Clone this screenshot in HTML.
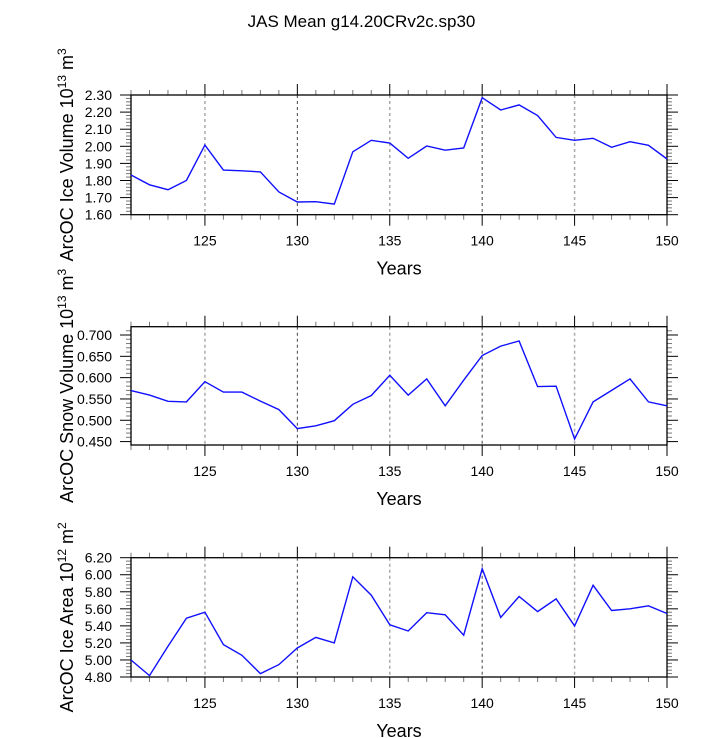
<!DOCTYPE html>
<html><head><meta charset="utf-8"><style>
html,body{margin:0;padding:0;background:#fff;}
svg{display:block;font-family:"Liberation Sans",Arial,sans-serif;}
</style></head><body>
<svg id="chart" width="723" height="738" viewBox="0 0 723 738" xmlns="http://www.w3.org/2000/svg">
<text x="361.5" y="27" font-size="17" text-anchor="middle">JAS Mean g14.20CRv2c.sp30</text>
</svg>
<script>
const years = [121,122,123,124,125,126,127,128,129,130,131,132,133,134,135,136,137,138,139,140,141,142,143,144,145,146,147,148,149,150];
const iceVolume = [1.832,1.775,1.746,1.80,2.007,1.861,1.857,1.850,1.733,1.674,1.676,1.662,1.968,2.035,2.019,1.930,2.002,1.977,1.990,2.284,2.212,2.242,2.180,2.052,2.035,2.047,1.994,2.027,2.006,1.926];
const snowVolume = [0.5695,0.559,0.5445,0.543,0.5906,0.566,0.566,0.545,0.525,0.4805,0.487,0.499,0.5375,0.558,0.6055,0.559,0.597,0.534,0.594,0.652,0.674,0.686,0.579,0.580,0.456,0.543,0.570,0.597,0.543,0.534];
const iceArea = [5.00,4.816,5.16,5.49,5.56,5.18,5.055,4.84,4.945,5.14,5.265,5.20,5.976,5.76,5.413,5.34,5.555,5.53,5.29,6.07,5.50,5.745,5.568,5.716,5.40,5.876,5.58,5.60,5.635,5.545];
const xTickLabels = ["125","130","135","140","145","150"];
const iceVolTicks = ["1.60","1.70","1.80","1.90","2.00","2.10","2.20","2.30"];
const snowVolTicks = ["0.450","0.500","0.550","0.600","0.650","0.700"];
const iceAreaTicks = ["4.80","5.00","5.20","5.40","5.60","5.80","6.00","6.20"];

const NS="http://www.w3.org/2000/svg";
const svg=document.getElementById('chart');
function mk(tag,attrs,parent){const e=document.createElementNS(NS,tag);for(const k in attrs)e.setAttribute(k,attrs[k]);(parent||svg).appendChild(e);return e;}

const X0=131,X1=667,XMIN=121,XMAX=150;
function xs(v){return X0+(v-XMIN)/(XMAX-XMIN)*(X1-X0);}

function panel(cfg){
  const g=mk('g',{});
  
  
  const ys=v=>cfg.bot-(v-cfg.ymin)/(cfg.ymax-cfg.ymin)*(cfg.bot-cfg.top);
  [125,130,135,140,145].forEach(yr=>{
    const dark=(yr%10===0);
    const l=mk('line',{x1:xs(yr),x2:xs(yr),y1:cfg.top,y2:cfg.bot,stroke:dark?'#444':'#aaa','stroke-width':dark?1:1.5,'stroke-dasharray':'3,3'},g);
    
    
  });
  for(let yr=XMIN;yr<=XMAX;yr++){
    const major=(yr%5===0);const x=xs(yr);
    const len=major?11:5;const col=major?'#000':'#777';
    mk('line',{x1:x,x2:x,y1:cfg.bot,y2:cfg.bot+len,stroke:col,'stroke-width':1},g);
    mk('line',{x1:x,x2:x,y1:cfg.top,y2:cfg.top-len,stroke:col,'stroke-width':1},g);
  }
  xTickLabels.forEach(lab=>{
    const t=mk('text',{x:xs(+lab),y:cfg.bot+31,'font-size':14,'text-anchor':'middle'},g);
    t.textContent=lab;
    
    
  });
  const nMin=Math.round((cfg.ymax-cfg.ymin)/cfg.minor);
  for(let i=0;i<=nMin+2;i++){
    const v=cfg.ymin0+i*cfg.minor; if(v<cfg.ymin-1e-9||v>cfg.ymax+1e-9)continue;
    const y=ys(v);
    const major=Math.abs((v-cfg.ymin0)/cfg.major-Math.round((v-cfg.ymin0)/cfg.major))<1e-6;
    const len=major?11:5;const col=major?'#000':'#777';
    mk('line',{x1:X0-len,x2:X0,y1:y,y2:y,stroke:col,'stroke-width':1},g);
    mk('line',{x1:X1,x2:X1+len,y1:y,y2:y,stroke:col,'stroke-width':1},g);
  }
  cfg.ticks.forEach(lab=>{
    const t=mk('text',{x:112,y:ys(+lab)+5,'font-size':14,'text-anchor':'end'},g);
    t.textContent=lab;
    
    
  });
  const f=mk('rect',{x:X0,y:cfg.top,width:X1-X0,height:cfg.bot-cfg.top,fill:'none',stroke:'#000','stroke-width':1.3},g);
  
  
  const pts=years.map((yr,i)=>xs(yr).toFixed(1)+','+ys(cfg.data[i]).toFixed(1)).join(' ');
  const pl=mk('polyline',{points:pts,fill:'none',stroke:'#1010ff','stroke-width':1.4},g);
  
  
  const cy=(cfg.top+cfg.bot)/2;
  const yt=mk('text',{x:0,y:0,'font-size':18,'text-anchor':'middle',transform:`translate(73,${cy}) rotate(-90)`},g);
  yt.innerHTML=cfg.title;
  
  
  const xt=mk('text',{x:(X0+X1)/2,y:cfg.bot+60,'font-size':18,'text-anchor':'middle'},g);
  xt.textContent='Years';
  
  
}
panel({name:'ice-volume-panel',top:95,bot:214.7,ymin:1.6,ymax:2.3,ymin0:1.6,major:0.1,minor:0.02,ticks:iceVolTicks,data:iceVolume,
  title:'ArcOC Ice Volume 10<tspan dy="-7" font-size="12">13</tspan><tspan dy="7"> m</tspan><tspan dy="-7" font-size="12">3</tspan>'});
panel({name:'snow-volume-panel',top:326.7,bot:445,ymin:0.442,ymax:0.7195,ymin0:0.45,major:0.05,minor:0.01,ticks:snowVolTicks,data:snowVolume,
  title:'ArcOC Snow Volume 10<tspan dy="-7" font-size="12">13</tspan><tspan dy="7"> m</tspan><tspan dy="-7" font-size="12">3</tspan>'});
panel({name:'ice-area-panel',top:557.7,bot:677,ymin:4.8,ymax:6.2,ymin0:4.8,major:0.2,minor:0.04,ticks:iceAreaTicks,data:iceArea,
  title:'ArcOC Ice Area 10<tspan dy="-7" font-size="12">12</tspan><tspan dy="7"> m</tspan><tspan dy="-7" font-size="12">2</tspan>'});
</script>
</body></html>
